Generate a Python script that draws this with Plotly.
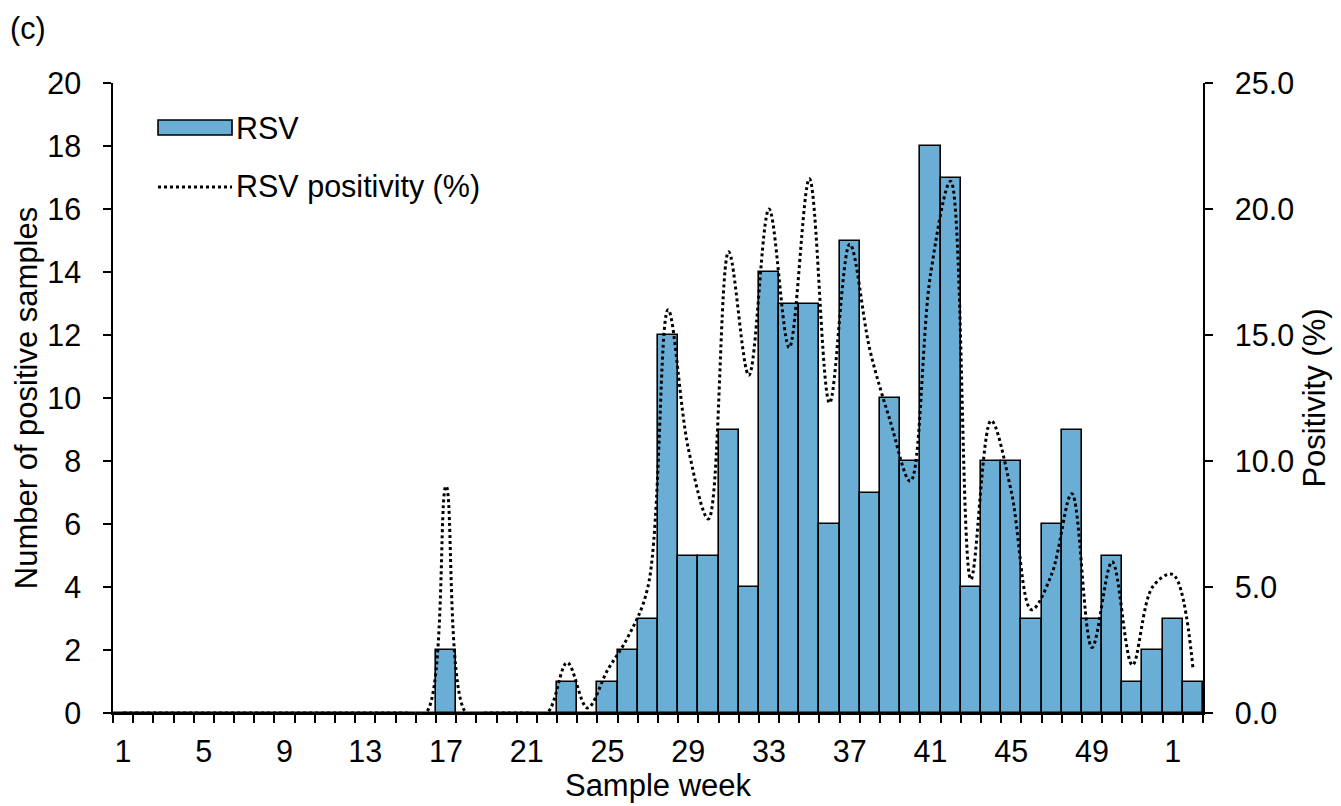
import plotly.graph_objects as go

# sample weeks (52 weeks, then weeks 1-2 of the following year)
week_labels = [str(w) for w in range(1, 53)] + ["1", "2"]

# number of RSV positive samples per week
rsv_counts = [0, 0, 0, 0, 0, 0, 0, 0, 0, 0, 0, 0, 0, 0, 0, 0,  # weeks 1-16
              2, 0, 0, 0, 0, 0,  # 17-22
              1, 0, 1, 2, 3, 12, 5, 5, 9, 4,  # 23-32
              14, 13, 13, 6, 15, 7, 10, 8, 18, 17,  # 33-42
              4, 8, 8, 3, 6, 9, 3, 5, 1, 2,  # 43-52
              3, 1]  # 1-2

# RSV positivity (%) per week
rsv_positivity = [0, 0, 0, 0, 0, 0, 0, 0, 0, 0, 0, 0, 0, 0, 0, 0,
                  9.0, 0, 0, 0, 0, 0,
                  2.0, 0.2, 1.7, 3.0, 5.0, 16.0, 10.5, 7.7, 18.3, 13.4,
                  20.0, 14.5, 21.2, 12.3, 18.6, 14.4, 11.6, 9.2, 17.4, 21.1,
                  5.3, 11.6, 8.8, 4.1, 5.5, 8.7, 2.6, 6.0, 1.9, 5.0,
                  5.5, 1.8]

x_pos = list(range(len(week_labels)))
label_pos = x_pos[::4]
label_text = week_labels[::4]

FONT = "Liberation Sans, Arial, sans-serif"
BAR_COLOR = "#6AAED6"
TITLE_FONT = {"family": FONT, "size": 31, "color": "black"}

fig = go.Figure()
fig.add_trace(go.Bar(
    x=x_pos, y=rsv_counts, name="RSV",
    marker={"color": BAR_COLOR, "line": {"color": "black", "width": 1.6}},
    showlegend=False,
))
fig.add_trace(go.Scatter(
    x=x_pos, y=rsv_positivity, name="RSV positivity (%)", yaxis="y2",
    mode="lines", line={"color": "black", "width": 3, "dash": "dot", "shape": "spline", "smoothing": 1.0},
    showlegend=False,
))

axis_common = {"showline": True, "linecolor": "black", "linewidth": 1.5,
               "showgrid": False, "zeroline": False, "automargin": False}

fig.update_layout(
    width=1333, height=798,
    margin={"l": 105, "r": 138, "t": 75, "b": 93},
    paper_bgcolor="white", plot_bgcolor="white",
    font={"family": FONT, "size": 30.5, "color": "black"},
    bargap=0,
    xaxis={
        "range": [-0.5, len(x_pos) - 0.5],
        "tickmode": "array", "tickvals": label_pos, "ticktext": label_text,
        "ticks": "outside", "ticklen": 0, "ticklabelstandoff": 11,
        "minor": {"tickmode": "linear", "tick0": -0.5, "dtick": 1,
                  "ticks": "outside", "ticklen": 8, "tickcolor": "black", "tickwidth": 1.5},
        "title": {"text": "Sample week", "standoff": 6, "font": TITLE_FONT},
        **axis_common,
    },
    yaxis={
        "range": [0, 20], "dtick": 2,
        "ticks": "outside", "ticklen": 8, "tickcolor": "black", "tickwidth": 1.5,
        "ticklabelstandoff": 16,
        "title": {"text": "Number of positive samples", "standoff": 0, "font": TITLE_FONT},
        **axis_common,
    },
    yaxis2={
        "range": [0, 25], "dtick": 5, "tickformat": ".1f",
        "overlaying": "y", "side": "right",
        "ticks": "outside", "ticklen": 8, "tickcolor": "black", "tickwidth": 1.5,
        "ticklabelstandoff": 16,
        "title": {"text": "Positivity (%)", "standoff": 10, "font": TITLE_FONT},
        **axis_common,
    },
    annotations=[
        {"text": "(c)", "xref": "paper", "yref": "paper", "x": -0.0963, "y": 1.087,
         "xanchor": "left", "yanchor": "middle", "showarrow": False},
        {"text": "RSV", "xref": "paper", "yref": "paper", "x": 0.111, "y": 0.9286,
         "xanchor": "left", "yanchor": "middle", "showarrow": False},
        {"text": "RSV positivity (%)", "xref": "paper", "yref": "paper", "x": 0.111, "y": 0.8365,
         "xanchor": "left", "yanchor": "middle", "showarrow": False},
    ],
    shapes=[
        # legend keys
        {"type": "rect", "xref": "paper", "yref": "paper", "x0": 0.0413, "x1": 0.1092,
         "y0": 0.9175, "y1": 0.9413, "fillcolor": BAR_COLOR, "line": {"color": "black", "width": 1.6}},
        {"type": "line", "xref": "paper", "yref": "paper", "x0": 0.0413, "x1": 0.1092,
         "y0": 0.8349, "y1": 0.8349, "line": {"color": "black", "width": 3, "dash": "dot"}},
    ],
)

fig.write_html("out.html")
